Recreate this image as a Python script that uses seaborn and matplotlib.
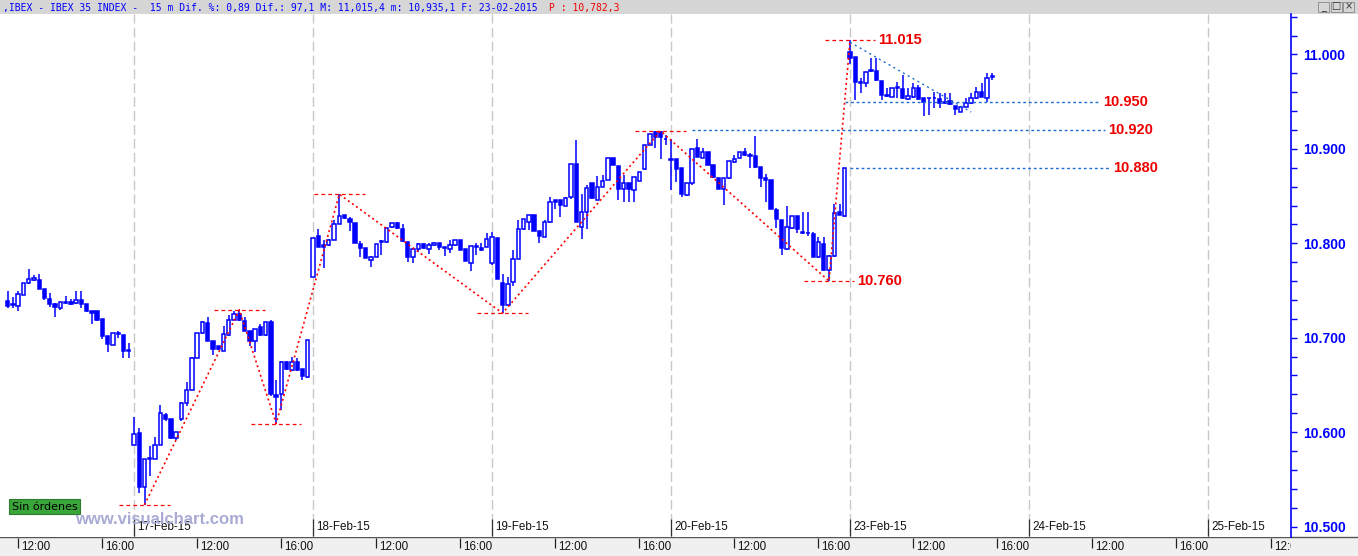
import numpy as np
import pandas as pd
import matplotlib
matplotlib.use("Agg")
import matplotlib.pyplot as plt
import matplotlib.transforms as mtransforms
from matplotlib.patches import Rectangle
from matplotlib.ticker import MultipleLocator, FuncFormatter
import seaborn as sns

# IBEX 35, 15 minute bars, session 09:00-17:30 -> 34 bars a day
sessions = ["16-Feb-15", "17-Feb-15", "18-Feb-15", "19-Feb-15",
            "20-Feb-15", "23-Feb-15", "24-Feb-15", "25-Feb-15"]
first_bar = [10, 0, 0, 0, 0, 0]
time_ticks = [("12:00", 12), ("16:00", 28)]

# (open, high, low, close)
feb16 = [(10739, 10749, 10731, 10734), (10735, 10743, 10731, 10735), (10734, 10749, 10728, 10746),
         (10745, 10758, 10745, 10758), (10758, 10773, 10757, 10762), (10761, 10766, 10760, 10763),
         (10761, 10767, 10752, 10752), (10752, 10752, 10740, 10742), (10741, 10747, 10733, 10736),
         (10736, 10737, 10722, 10733), (10732, 10738, 10729, 10738), (10737, 10744, 10736, 10737.5),
         (10738, 10741, 10735, 10736), (10737, 10750, 10736, 10740), (10740, 10750, 10731, 10736),
         (10736, 10736, 10727, 10728), (10728, 10728, 10714, 10726), (10728, 10728, 10718, 10719),
         (10720, 10720, 10699, 10702), (10702, 10702, 10685, 10693), (10692, 10705, 10692, 10705),
         (10704, 10707, 10700, 10705), (10703, 10703, 10679, 10686), (10685.5, 10694, 10679, 10687.5)]
feb17 = [(10586, 10616, 10586, 10598), (10599, 10604, 10535, 10542), (10541.5, 10572, 10523, 10572),
         (10571, 10585, 10554, 10573), (10572, 10595, 10571, 10586), (10586, 10629, 10586, 10620),
         (10618, 10620, 10612, 10614), (10614, 10614, 10593, 10593.5), (10593.5, 10600, 10592, 10600),
         (10613.5, 10632, 10612, 10630.5), (10630.5, 10653, 10627.5, 10645), (10645, 10680, 10645, 10679),
         (10679, 10705, 10678, 10705), (10705, 10718, 10704, 10717), (10716, 10722, 10696, 10697),
         (10696, 10696, 10682, 10688), (10691, 10691.5, 10687, 10688), (10686, 10712, 10686, 10704),
         (10703, 10724, 10702, 10719), (10719, 10728.5, 10719, 10725), (10725, 10729.5, 10718, 10719),
         (10718, 10722, 10707, 10707.5), (10707.5, 10707.5, 10691, 10696), (10696, 10709, 10685, 10709),
         (10711, 10715, 10702, 10703), (10703, 10717, 10702, 10716.5), (10716.5, 10719, 10638, 10640),
         (10639, 10655, 10609, 10637.5), (10640, 10675, 10623, 10674.5), (10674.5, 10675, 10666, 10666.5),
         (10666, 10680, 10665, 10674.5), (10674.5, 10678, 10665, 10666), (10666.5, 10667, 10655, 10659),
         (10658, 10698, 10657, 10697.5)]
feb18 = [(10764.5, 10806, 10764, 10806), (10807.5, 10815, 10796, 10796.5), (10798, 10803.5, 10773.5, 10796.5),
         (10798, 10805, 10797, 10804), (10804, 10825, 10804, 10820.5), (10820.5, 10852, 10820, 10829),
         (10830, 10830, 10826, 10826.5), (10825.5, 10827.5, 10813.5, 10823), (10822, 10822, 10800, 10800),
         (10799, 10802, 10786, 10795.5), (10795, 10795, 10784, 10784), (10782, 10787, 10774.5, 10785),
         (10785, 10799, 10785, 10799), (10801.5, 10804, 10787.5, 10802.5), (10801, 10816, 10800, 10816),
         (10817, 10822, 10816, 10821), (10822, 10823, 10815, 10816), (10815, 10820.5, 10801, 10802),
         (10801, 10801, 10780.5, 10785), (10785, 10795, 10779, 10794.5), (10794.5, 10800, 10791, 10799),
         (10799, 10800.5, 10794, 10795.5), (10793.5, 10800, 10788.5, 10798), (10798, 10801, 10797, 10800),
         (10800, 10800, 10793, 10796.5), (10795.5, 10796.5, 10786.5, 10795.5), (10794.5, 10803.5, 10789.5, 10798),
         (10798, 10804, 10797, 10804), (10803.5, 10804, 10793, 10793), (10793.5, 10793.5, 10781, 10781.5),
         (10779.5, 10797, 10771, 10797), (10796.5, 10800, 10787.5, 10796.5), (10795.5, 10800.5, 10792, 10793),
         (10796.5, 10810.5, 10796, 10805)]
feb19 = [(10779.5, 10812, 10777, 10807), (10806, 10806, 10762, 10762), (10757.5, 10767, 10726, 10734.5),
         (10734.5, 10764, 10734, 10757), (10758.5, 10793, 10755, 10783), (10783, 10825, 10783, 10815),
         (10815, 10826, 10814, 10825.5), (10823, 10830, 10814, 10830), (10830, 10830, 10813, 10813.5),
         (10813, 10813, 10800, 10807.5), (10807, 10825, 10807, 10823), (10823, 10849, 10822, 10844),
         (10846, 10846, 10836, 10844), (10846, 10846, 10828, 10840.5), (10839.5, 10849, 10839, 10848.5),
         (10849.5, 10884, 10847, 10884), (10884.5, 10909.5, 10823, 10823), (10817.5, 10852, 10805, 10833.5),
         (10833.5, 10862, 10815, 10859), (10863.5, 10863.5, 10847, 10847.5), (10846, 10871, 10846, 10860),
         (10860, 10872, 10860, 10866.5), (10867, 10890, 10867, 10890), (10890, 10890, 10883, 10883),
         (10882, 10882, 10846, 10857), (10857, 10872, 10844, 10863.5), (10863.5, 10863.5, 10844, 10857),
         (10856.5, 10870, 10844, 10870), (10866, 10876, 10866, 10876), (10878.5, 10904, 10878, 10904),
         (10904, 10916, 10904, 10916), (10917.5, 10918.5, 10900.5, 10912.5), (10917.5, 10919, 10889, 10912.5),
         (10910, 10914.5, 10904, 10910)]
feb20 = [(10888, 10911, 10856.5, 10888.5), (10889, 10889, 10865, 10878.5), (10879.5, 10880, 10849.5, 10852),
         (10851, 10864, 10850, 10863.5), (10863.5, 10899.5, 10862, 10899.5), (10900.5, 10910.5, 10891, 10891),
         (10890, 10900.5, 10890, 10896.5), (10896.5, 10896.5, 10883, 10883), (10883, 10883, 10869, 10870),
         (10869, 10869, 10857, 10857), (10857, 10869, 10840.5, 10869), (10869, 10887.5, 10868, 10887.5),
         (10886, 10894, 10885, 10889), (10890, 10897, 10890, 10896.5), (10896.5, 10900.5, 10893, 10894),
         (10894, 10896, 10880, 10892.5), (10892.5, 10914, 10880, 10880.5), (10880.5, 10880.5, 10860, 10869),
         (10869, 10873.5, 10844, 10867), (10867.5, 10867.5, 10836, 10836), (10835.5, 10837, 10816, 10825.5),
         (10825, 10825, 10787.5, 10795), (10793.5, 10839, 10793, 10817), (10816, 10829, 10815, 10829),
         (10829, 10829, 10810.5, 10815), (10811.5, 10833.5, 10810, 10811), (10811, 10833.5, 10808, 10810.5),
         (10810, 10812, 10785, 10786), (10786, 10807, 10784, 10801.5), (10799.5, 10807, 10771, 10772),
         (10772, 10787.5, 10760, 10786.5), (10787, 10842, 10786, 10832), (10833, 10842, 10830, 10830.5),
         (10829, 10879.5, 10828, 10879.5)]
feb23 = [(11003, 11015.4, 10990, 10996), (10997, 10997, 10952, 10971), (10971, 10975, 10959, 10969.5),
         (10969.5, 10981, 10966, 10981), (10983.5, 10996, 10981, 10982), (10983, 10996, 10972, 10973),
         (10972, 10972, 10952, 10957), (10956, 10965, 10955, 10956.5), (10955.5, 10965, 10955, 10965),
         (10965, 10971, 10953.5, 10965.5), (10963, 10978, 10953, 10953.5), (10952.5, 10964, 10952, 10956),
         (10954.5, 10969.5, 10954, 10965), (10964, 10967.5, 10952, 10952.5), (10953.5, 10954, 10935.1, 10950),
         (10953.5, 10954, 10936, 10953.5), (10953.5, 10960.5, 10943, 10953.5), (10952.5, 10959, 10943, 10949),
         (10949, 10959, 10948, 10949), (10951, 10959, 10947, 10947.5), (10945.5, 10945.5, 10936, 10942),
         (10939.5, 10945, 10939, 10944.5), (10944.5, 10953.5, 10944, 10948.5), (10948.5, 10959, 10948, 10953.5),
         (10953.5, 10966, 10953, 10960.5), (10960.5, 10969.5, 10955, 10955.5), (10953.5, 10980, 10950, 10975.5),
         (10976.6, 10980, 10973, 10976.6)]

# swing points of the zig-zag (bar number, price)
swing_bar = [36, 54, 61, 73, 104, 134, 166, 170]
swing_price = [10523, 10729.5, 10609, 10852, 10726, 10919, 10760, 11015]
swing_labels = {166: "10.760", 170: "11.015"}

# support / resistance lines (price, first bar, last bar)
levels = [(10950, 169, 217.5), (10920, 140, 218.4), (10880, 170, 219.4)]
trend_bar = [170, 193]
trend_price = [11013, 10939]

title_main = ",IBEX - IBEX 35 INDEX -  15 m Dif. %: 0,89 Dif.: 97,1 M: 11,015,4 m: 10,935,1 F: 23-02-2015"
title_last = "P : 10,782,3"

BARS_DAY = 34
BLUE = "#0000ff"
RED = "#ee0000"
LBLUE = "#1c6cd4"

rows = []
for d, (day, start) in enumerate(zip([feb16, feb17, feb18, feb19, feb20, feb23], first_bar)):
    for k, (o, h, l, c) in enumerate(day):
        rows.append(dict(bar=d * BARS_DAY + start + k, open=o, high=h, low=l, close=c))
df = pd.DataFrame(rows)
df["up"] = df["close"] >= df["open"]
df["base"] = df[["open", "close"]].min(axis=1)
df["body"] = (df["close"] - df["open"]).abs().clip(lower=0.8)

sns.set_theme(style="white")
plt.rcParams["font.family"] = ["Liberation Sans", "DejaVu Sans"]

W, H = 1358, 556
fig = plt.figure(figsize=(W / 100, H / 100), dpi=100, facecolor="white")


def fx(x):
    return x / W


def fy(y):
    return 1 - y / H


ax = fig.add_axes([0, fy(537), fx(1291), (537 - 14) / H])
ax.set_facecolor("white")
ax.set_xlim(8.55, 253.75)
ax.set_ylim(10488.9, 11042.9)

# day separators
for d in range(1, len(sessions)):
    ax.axvline(d * BARS_DAY, color="#c8c8c8", lw=1.0, ls=(0, (7, 3)), zorder=1)

# candles
ax.vlines(df["bar"], df["low"], df["high"], color=BLUE, lw=1.1, zorder=3)
up = df[df["up"]]
dn = df[~df["up"]]
ax.bar(up["bar"], up["body"], bottom=up["base"], width=0.64, facecolor="white",
       edgecolor=BLUE, linewidth=1.1, zorder=4)
ax.bar(dn["bar"], dn["body"], bottom=dn["base"], width=0.64, facecolor=BLUE,
       edgecolor=BLUE, linewidth=1.1, zorder=4)

# zig-zag and swing levels
sns.lineplot(x=swing_bar, y=swing_price, sort=False, estimator=None, ax=ax,
             color="red", lw=1.2, linestyle=(0, (1.2, 1.8)), zorder=5)
for b, p in zip(swing_bar, swing_price):
    ax.hlines(p, b - 4.8, b + 4.8, color="red", lw=0.9, ls=(0, (3, 2.5)), zorder=5)
    if b in swing_labels:
        ax.text(b + 5.4, p, swing_labels[b], color=RED, fontsize=10.5, fontweight="bold",
                va="center", ha="left", zorder=6)

for p, b0, b1 in levels:
    ax.hlines(p, b0, b1, color=LBLUE, lw=1.0, ls=(0, (2, 2)), zorder=5)
    ax.text(b1 + 0.6, p, f"{p / 1000:.3f}", color=RED, fontsize=10.5, fontweight="bold",
            va="center", ha="left", zorder=6)
sns.lineplot(x=trend_bar, y=trend_price, sort=False, estimator=None, ax=ax,
             color=LBLUE, lw=1.0, linestyle=(0, (1.5, 2.5)), zorder=5)

# price axis on the right
for s in ["top", "left", "bottom"]:
    ax.spines[s].set_visible(False)
ax.spines["right"].set_color(BLUE)
ax.spines["right"].set_linewidth(1.2)
ax.yaxis.set_ticks_position("right")
ax.yaxis.set_major_locator(MultipleLocator(100))
ax.yaxis.set_minor_locator(MultipleLocator(20))
ax.yaxis.set_major_formatter(FuncFormatter(lambda v, _: f"{v / 1000:.3f}"))
ax.tick_params(axis="y", which="both", direction="out", color=BLUE, length=4, width=1.0,
               labelcolor=BLUE, labelsize=10, pad=4.5)
for lab in ax.get_yticklabels():
    lab.set_fontweight("bold")
ax.set_xticks([])
ax.set_xlabel("")
ax.set_ylabel("")

# title strip and time band (behind the axes)
fig.patches.append(Rectangle((0, fy(14)), 1, 14 / H, transform=fig.transFigure,
                             facecolor="#d6d6d6", edgecolor="none", zorder=-2))
fig.patches.append(Rectangle((0, 0), 1, 19 / H, transform=fig.transFigure,
                             facecolor="#f0f0f0", edgecolor="none", zorder=-2))
fig.add_artist(plt.Line2D([0, 1], [fy(537), fy(537)], transform=fig.transFigure,
                          color="#555555", lw=1.0, zorder=-1))
fig.text(fx(3), fy(7.5), title_main, color=BLUE, fontsize=7.05, family="DejaVu Sans Mono", va="center")
fig.text(fx(549), fy(7.5), title_last, color=RED, fontsize=7.05, family="DejaVu Sans Mono", va="center")
for i, g in enumerate(["_", "□", "×"]):
    x0 = 1318 + i * 12.5
    fig.patches.append(Rectangle((fx(x0), fy(12)), 11 / W, 10 / H, transform=fig.transFigure,
                                 facecolor="#d6d6d6", edgecolor="#888888", lw=0.6, zorder=2))
    fig.text(fx(x0 + 5.5), fy(6.5), g, fontsize=7, family="DejaVu Sans", ha="center",
             va="center", color="#333333")

xt = ax.get_xaxis_transform()
clip = mtransforms.TransformedBbox(mtransforms.Bbox([[0, 0], [fx(1291), 1]]), fig.transFigure)


def ay(ypix):
    return (537 - ypix) / (537 - 14)


txt_tr = mtransforms.offset_copy(xt, fig=fig, x=3, y=0, units="dots")
for d in range(len(sessions)):
    for lab, slot in time_ticks:
        b = d * BARS_DAY + slot
        if b > 253.75:
            continue
        ax.vlines(b, ay(548), ay(538), transform=xt, color="#222222", lw=0.9, clip_on=False)
        t = ax.text(b, ay(546.5), lab, transform=txt_tr, fontsize=8.4, va="center", ha="left",
                    color="#111111", clip_on=False)
        t.set_clip_box(clip)
        t.set_clip_on(True)
    if d > 0:
        b = d * BARS_DAY
        ax.vlines(b, ay(536), ay(519), transform=xt, color="#333333", lw=0.9, zorder=6)
        ax.text(b, ay(527.5), sessions[d], transform=txt_tr, fontsize=8.4, va="center",
                ha="left", color="#111111", zorder=6)

# order status box and watermark
fig.patches.append(Rectangle((fx(9), fy(514)), 71 / W, 15 / H, transform=fig.transFigure,
                             facecolor="#3aa53a", edgecolor="#2b7d2b", lw=0.8, zorder=3))
fig.text(fx(44.5), fy(506.5), "Sin órdenes", fontsize=8, ha="center", va="center",
         color="black", family="DejaVu Sans", zorder=4)
fig.text(fx(75), fy(520), "www.visualchart.com", color="#a9abd4", fontsize=12,
         fontweight="bold", va="center", zorder=4)

fig.savefig("out.png", dpi=100, facecolor="white")
